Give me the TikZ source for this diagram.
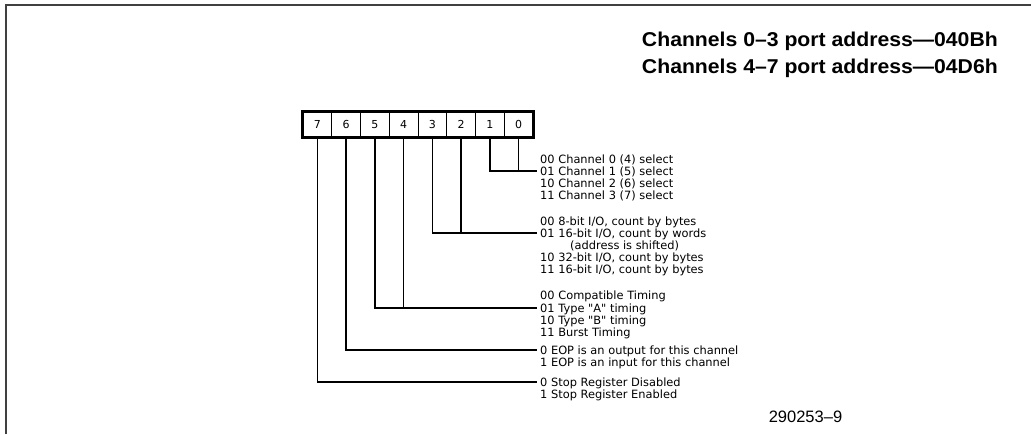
\documentclass[tikz,border=0pt]{standalone}
\usepackage{fontspec}
\usepackage{tikz}
\newfontfamily\headfont{Liberation Sans}[FakeStretch=1.06]
\newfontfamily\numfont{Liberation Sans}
\newfontfamily\labelfont{DejaVu Sans}

\begin{document}
\begin{tikzpicture}[x=1pt, y=-1pt]
  \tikzstyle{cell} = [draw, line width=0.8pt, minimum width=28.75pt, minimum height=25pt, inner sep=0pt, font=\labelfont\fontsize{11}{11}\selectfont]
  \tikzstyle{desc} = [anchor=west, inner xsep=3pt, inner ysep=0pt, text height=9pt, text depth=1pt, font=\labelfont\fontsize{11.4}{12}\selectfont]
  \tikzstyle{heading} = [anchor=east, inner sep=0pt, font=\headfont\bfseries\fontsize{20}{20}\selectfont]
  \tikzstyle{wire} = [line width=1.4pt]
  \useasboundingbox (0,0) rectangle (1031,434);
  % frame
  \draw[line width=2pt, black!75] (6,434) -- (6,5) -- (1031,5);
  % port addresses
  \node[heading] (addrlo) at (998,41) {Channels 0–3 port address—040Bh};
  \node[heading] (addrhi) at (998,68) {Channels 4–7 port address—04D6h};
  % register bits
  \node[cell] (b7) at (317.375,124.5) {7};
  \node[cell] (b6) at (346.125,124.5) {6};
  \node[cell] (b5) at (374.875,124.5) {5};
  \node[cell] (b4) at (403.625,124.5) {4};
  \node[cell] (b3) at (432.375,124.5) {3};
  \node[cell] (b2) at (461.125,124.5) {2};
  \node[cell] (b1) at (489.875,124.5) {1};
  \node[cell] (b0) at (518.625,124.5) {0};
  \draw[line width=2.4pt] (b7.north west) rectangle (b0.south east);
  % bit descriptions
  \node[desc] (sel0) at (537,159) {00 Channel 0 (4) select};
  \node[desc] (sel1) at (537,171) {01 Channel 1 (5) select};
  \node[desc] (sel2) at (537,183) {10 Channel 2 (6) select};
  \node[desc] (sel3) at (537,195) {11 Channel 3 (7) select};
  \node[desc] (xfer0) at (537,221) {00 8-bit I/O, count by bytes};
  \node[desc] (xfer1) at (537,233) {01 16-bit I/O, count by words};
  \node[desc] (xfer1b) at (567,245) {(address is shifted)};
  \node[desc] (xfer2) at (537,257) {10 32-bit I/O, count by bytes};
  \node[desc] (xfer3) at (537,269) {11 16-bit I/O, count by bytes};
  \node[desc] (tim0) at (537,295) {00 Compatible Timing};
  \node[desc] (tim1) at (537,308) {01 Type "A" timing};
  \node[desc] (tim2) at (537,320) {10 Type "B" timing};
  \node[desc] (tim3) at (537,332) {11 Burst Timing};
  \node[desc] (eop0) at (537,350) {0 EOP is an output for this channel};
  \node[desc] (eop1) at (537,362) {1 EOP is an input for this channel};
  \node[desc] (stop0) at (537,382) {0 Stop Register Disabled};
  \node[desc] (stop1) at (537,394) {1 Stop Register Enabled};
  \node[inner sep=0pt, font=\numfont\fontsize{16.5}{16.5}\selectfont] (fignum) at (805.5,417) {290253–9};
  % connectors
  \draw[wire] (b1.south) |- (sel1.west);
  \draw[wire] (b0.south) -- (b0.south |- sel1.west);
  \draw[wire] (b3.south) |- (xfer1.west);
  \draw[wire] (b2.south) -- (b2.south |- xfer1.west);
  \draw[wire] (b5.south) |- (tim1.west);
  \draw[wire] (b4.south) -- (b4.south |- tim1.west);
  \draw[wire] (b6.south) |- (eop0.west);
  \draw[wire] (b7.south) |- (stop0.west);
\end{tikzpicture}
\end{document}
